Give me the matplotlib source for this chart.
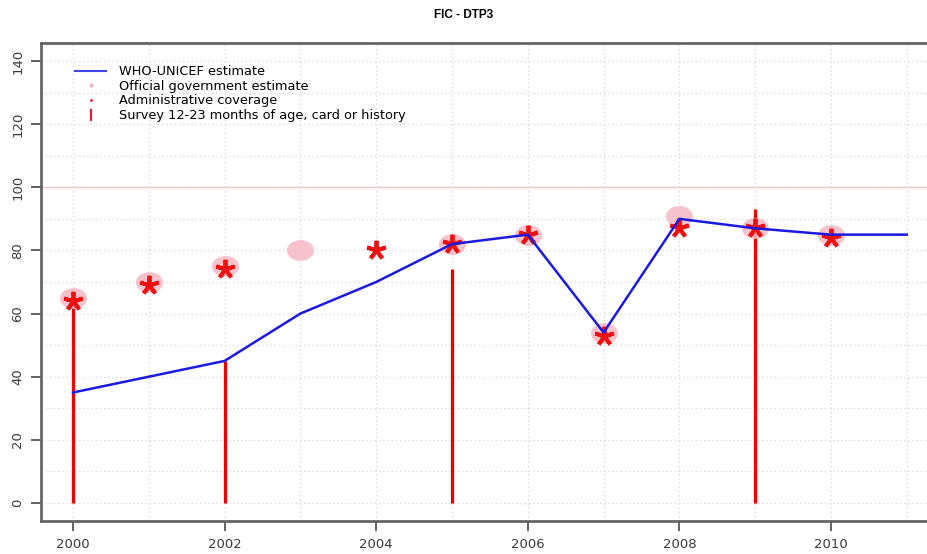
import matplotlib.pyplot as plt
from matplotlib.lines import Line2D
from matplotlib.path import Path
import numpy as np

plt.rcParams['font.family'] = ['DejaVu Sans']

# coverage series (%)
years = [2000, 2001, 2002, 2003, 2004, 2005, 2006, 2007, 2008, 2009, 2010, 2011]
wuenic = [35, 40, 45, 60, 70, 82, 85, 54, 90, 87, 85, 85]

gov_years = [2000, 2001, 2002, 2003, 2005, 2006, 2007, 2008, 2009, 2010]
gov = [65, 70, 75, 80, 82, 85, 54, 91, 87, 85]

admin_years = [2000, 2001, 2002, 2004, 2005, 2006, 2007, 2008, 2009, 2010]
admin = [64, 69, 74, 80, 82, 85, 53, 87, 87, 84]

survey_years = [2000, 2002, 2005, 2009]
survey = [64, 45, 74, 93]

# slightly wide ellipse for the government estimate
t = np.linspace(0, 2 * np.pi, 60)
ellipse = Path(np.column_stack([1.3 * np.cos(t), np.sin(t)]), closed=True)

fig = plt.figure(figsize=(9.28, 5.54), dpi=100)
ax = fig.add_axes([41 / 928, 33 / 554, 887 / 928, 478 / 554])

ax.set_xlim(1999.578, 2011.28)
ax.set_ylim(-5.7, 145.7)

# dotted grid
for yr in range(2000, 2012):
    ax.axvline(yr, color='#dadada', lw=1, ls=(0, (1, 2)), zorder=0)
for v in range(0, 150, 10):
    ax.axhline(v, color='#dadada', lw=1, ls=(0, (1, 2)), zorder=0)
ax.axhline(100, color='#f7c6cf', lw=1, zorder=1)

ax.vlines(survey_years, 0, survey, color='#ee0000', lw=2.3, zorder=2)
ax.plot(gov_years, gov, ls='none', marker=ellipse, ms=19.5,
        color='#f6bcc6', mec='none', alpha=0.9, zorder=3)
ax.plot(admin_years, admin, ls='none', marker=(5, 2, 0), ms=14,
        mew=2.8, color='#ee1111', zorder=4)
ax.plot(years, wuenic, color='#1a1ae0', lw=1.8, zorder=5)

ax.set_xticks(range(2000, 2011, 2))
ax.set_yticks(range(0, 141, 20))
ax.tick_params(axis='both', length=7, width=1.3, color='#555555',
               labelcolor='#3a3a3a', labelsize=9.5)
ax.tick_params(axis='x', pad=5)
ax.tick_params(axis='y', pad=5)
for lbl in ax.get_yticklabels():
    lbl.set_rotation(90)
    lbl.set_va('center')
for s in ['left', 'bottom', 'top']:
    ax.spines[s].set_color('#666666')
    ax.spines[s].set_linewidth(2)
ax.spines['right'].set_visible(False)

legend_elements = [
    Line2D([0], [0], color='#4444ee', lw=1.5, label='WHO-UNICEF estimate'),
    Line2D([0], [0], marker='o', color='w', markerfacecolor='#f5b5c0',
           markersize=4, label='Official government estimate'),
    Line2D([0], [0], marker='o', color='w', markerfacecolor='#ee1133',
           markersize=3, label='Administrative coverage'),
    Line2D([0], [0], marker='|', color='w', markeredgecolor='#ee1133',
           markersize=9, mew=1.5, label='Survey 12-23 months of age, card or history'),
]
ax.legend(handles=legend_elements, loc='upper left', bbox_to_anchor=(0.033, 0.964),
          frameon=False, fontsize=9.3, handlelength=2.4, handletextpad=1.0,
          labelspacing=0.12, borderaxespad=0)

fig.text(0.5, 1 - 15 / 554, 'FIC - DTP3', ha='center', va='center',
         fontsize=8.5, fontweight='bold', family='Liberation Sans')

plt.savefig('out.png', dpi=100)
